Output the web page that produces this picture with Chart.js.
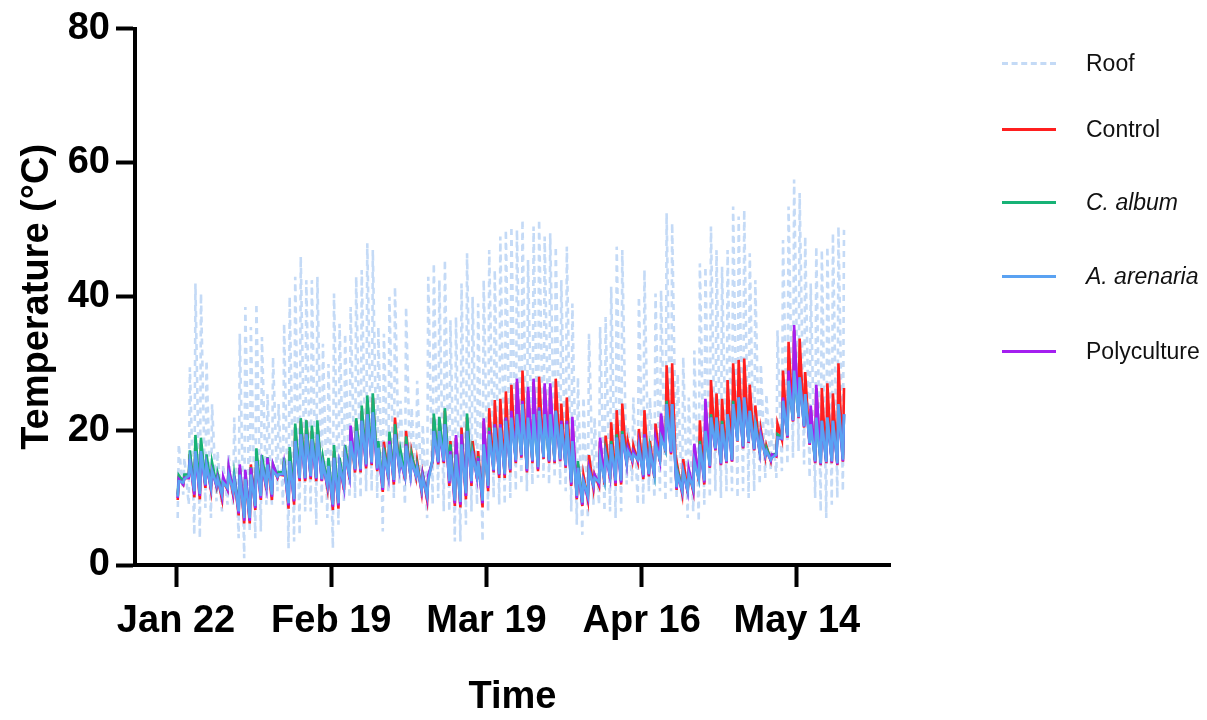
<!DOCTYPE html>
<html>
<head>
<meta charset="utf-8">
<script src="https://cdn.jsdelivr.net/npm/chart.js@4"></script>
<style>
  body { margin: 0; background: #fff; }
  #wrap { position: relative; width: 1207px; height: 720px; }
  #legend { position: absolute; left: 1002px; top: 0; font: 23px "Liberation Sans", Arial, sans-serif; color: #111; }
  .item { position: absolute; left: 0; white-space: nowrap; }
  .swatch { position: absolute; left: 0; width: 54px; height: 0; border-top: 3px solid; }
  .label { position: absolute; left: 84px; transform: translateY(-50%); }
</style>
</head>
<body>
<div id="wrap">
  <canvas id="chart" width="1207" height="720"></canvas>
  <div id="legend"></div>
</div>
<script>
// day 0 = Jan 22; one min and one max per day
const tickDays = [0, 28, 56, 84, 112];
const tickLabels = ["Jan 22", "Feb 19", "Mar 19", "Apr 16", "May 14"];

const roofMax = [
  18, 16, 29.5, 42, 40.5, 30.5, 24, 17, 15, 16.5,
  22, 34.5, 38.5, 35.5, 39, 34, 25.5, 31, 24, 36,
  40, 43, 46, 42.5, 42.5, 43, 33, 30, 40.5, 36,
  34.5, 38.5, 43, 44, 48, 47, 35.5, 34.5, 40, 41.5,
  24.5, 38.5, 23.5, 27.5, 21, 43, 45, 42.5, 45.5, 36.5,
  37, 42, 46.5, 40, 39, 42.5, 47, 44, 49, 50,
  50.5, 50, 51.5, 45.5, 50.5, 51.5, 49, 49.5, 47.5, 42.5,
  47.5, 39, 28, 25, 34.5, 22, 35.5, 37, 41.5, 47.5,
  47, 20.5, 25, 40, 44, 25, 40.5, 41, 52.5, 51,
  28.5, 31, 25, 32, 45, 44.5, 50.5, 47, 44.5, 47,
  53.5, 52, 53, 46.5, 42.5, 30, 25.5, 22, 35, 48.5,
  53.5, 57.5, 55.5, 49, 42, 47.5, 47, 47.5, 49.5, 50.5, 50
];
const roofMin = [
  7, 10.5, 9, 4.5, 4, 8.5, 7, 9.5, 8, 9,
  9, 4, 1, 5, 4, 5, 9, 9, 11, 9,
  2.5, 3.5, 4.5, 8, 8, 6, 9, 7, 2.5, 6,
  9.5, 10, 10, 10, 11, 11, 10, 5, 11, 10,
  12, 9, 12, 12, 10, 7, 9, 10, 8, 8,
  3.5, 3.5, 6, 8, 9, 3.5, 8, 10, 9, 9,
  10, 11, 12, 11, 12, 13, 13, 12, 13, 12,
  11, 8, 6, 4.5, 7, 9, 9, 8, 8, 7,
  8, 12, 12.5, 9, 9, 11, 10, 11, 9.5, 11,
  10, 9.5, 7, 8, 6.5, 9, 10, 11, 10, 11,
  11, 10, 11, 10, 11, 12, 13, 14, 13, 14,
  15, 16, 17, 15, 13, 10, 8, 7, 9, 10, 11
];
const controlMax = [
  13, 13, 16.5, 18, 18, 15.5, 14.5, 13, 12.5, 14,
  13, 14.5, 13.5, 15, 16.5, 15.5, 15.5, 14.5, 13.5, 15.5,
  17, 20.5, 21.5, 21.5, 20, 21, 15.5, 15.5, 17, 15.5,
  17.5, 20, 21.5, 23, 24.5, 25, 18, 18.4, 19.5, 22,
  16.5, 20, 16.8, 15.5, 13.5, 13, 22, 21.5, 23, 18.5,
  19, 20.5, 22, 18.5, 17, 21.5, 23.4, 24.6, 24.8, 25.9,
  26.9, 27.3, 29, 26, 27.3, 28.1, 26.6, 26.6, 27.8, 24.1,
  25, 21.5, 15, 13.4, 16.4, 13.5, 18.5, 19.3, 21.3, 23.1,
  24.1, 18.5, 17.8, 20.3, 23.1, 18.5, 21.1, 22.2, 29.8, 30.1,
  14.5, 15.8, 14, 17.6, 21.6, 24.2, 27.6, 25.6, 24.8, 27.6,
  30.1, 30.6, 30.8, 26.9, 23.8, 20.2, 17.8, 16.5, 21.1, 29,
  33.3, 35, 33.8, 28.8, 23.3, 26.4, 26.4, 27.1, 25.6, 30.1, 26.4
];
const controlMin = [
  9.7, 12, 13, 10.1, 9.8, 11.5, 11.2, 11.7, 9.8, 11.2,
  10.5, 7.4, 6.2, 6.2, 8.2, 9.7, 11.2, 9.7, 13, 13.4,
  8.4, 9, 12.5, 12.5, 12.8, 12.5, 12.5, 11.5, 8.2, 8.4,
  11.2, 12.8, 13.8, 13.8, 14.4, 14.9, 14, 10.9, 12.8, 12,
  14.1, 12.8, 13.2, 13.2, 10.9, 9.7, 15.4, 15, 15.2, 11.8,
  8.8, 8.6, 9.8, 11.8, 12.8, 8.6, 11, 13.8, 13, 13,
  13.8, 15.2, 16, 13.8, 15.2, 14, 15.8, 15.2, 15.2, 15.5,
  14.5, 11.8, 9.8, 8.8, 9.7, 11.5, 11.8, 12, 12.8, 11.8,
  12, 14.9, 15.5, 15.4, 12.8, 13.2, 13, 15.4, 16.8, 16.5,
  11.2, 10.7, 10.7, 11, 12.5, 12, 14.5, 17.1, 14.9, 15.2,
  15.4, 18.4, 17.4, 18.2, 17.1, 16.7, 16.2, 15.5, 16.2, 18.7,
  19, 21.4, 21.9, 20.5, 17.9, 15.2, 14.9, 15.2, 15.2, 14.9, 15.4
];
const albumMax = [
  13.4, 13.5, 17.1, 19.4, 19, 16.5, 15.3, 13.7, 12.8, 14.3,
  13.5, 14.5, 13.8, 14.6, 17.4, 16.4, 16.1, 15, 13.9, 16,
  17.6, 21.1, 21.9, 21.6, 20.8, 21.6, 16, 16, 17.9, 16,
  17.9, 20.3, 21.9, 23.8, 25.3, 25.6, 18.5, 17.5, 19.9, 21,
  17.1, 19.2, 16.5, 15, 13.5, 13, 22.6, 22.1, 23.4, 18,
  18, 19.5, 22.6, 17, 16.2, 19, 20.5, 21, 21, 22,
  22.5, 23, 23.5, 22.5, 23, 23.5, 22.5, 22.5, 23, 21.5,
  21.5, 19, 15.5, 12.5, 14.5, 13, 16.5, 17, 18.5, 19.5,
  20, 17.5, 17, 18, 19.5, 17.5, 18.5, 19.5, 24.5, 24,
  14, 14, 13.5, 16, 18.5, 20, 22.5, 22, 21.5, 22.5,
  24.5, 25, 24.5, 23, 21.5, 19.5, 17.5, 16.5, 19.5, 24.5,
  27, 28.5, 27.5, 25.5, 21.5, 22, 21.5, 22, 21.5, 23.5, 22.5
];
const albumMin = [
  10.5, 12.5, 13.5, 11, 11, 12, 11.8, 12, 11, 11.8,
  11.2, 8.5, 7.5, 7.5, 9.2, 10.5, 12, 10.8, 13.3, 13.8,
  9.5, 10, 13, 13.2, 13.5, 13.2, 13, 12.2, 9.5, 9.5,
  12, 13.5, 14.5, 14.5, 15.2, 15.5, 14.6, 11.8, 13.5, 13,
  14.5, 13.5, 13.6, 13.5, 11.5, 10.5, 15.8, 15.5, 15.8, 12.8,
  10, 9.8, 11, 12.8, 13.4, 10, 12, 14.3, 13.8, 13.8,
  14.5, 15.8, 16.5, 14.5, 15.8, 14.8, 16.2, 15.8, 15.8, 16,
  15, 12.5, 10.5, 9.5, 10.5, 12, 12.5, 12.8, 13.5, 12.8,
  12.8, 15.3, 15.8, 15.8, 13.5, 13.8, 13.6, 15.8, 17.2, 17,
  11.8, 11.3, 11.3, 11.6, 13, 12.8, 15, 17.5, 15.4, 15.6,
  15.8, 18.6, 17.8, 18.5, 17.4, 17, 16.5, 15.8, 16.6, 19,
  19.4, 21.7, 22.2, 20.8, 18.3, 15.6, 15.3, 15.5, 15.6, 15.3, 15.8
];
const arenariaMax = [
  12.5, 12.8, 15.5, 17, 17, 15, 14, 12.8, 12.3, 13.5,
  12.8, 13.5, 12.8, 13.5, 15.5, 15, 15, 14, 13.5, 14.8,
  15.5, 18.5, 19.5, 19.5, 18.8, 19.5, 15, 14.8, 16, 15,
  16.5, 18.5, 20, 21.5, 22.5, 22.8, 17.5, 16.5, 18, 19.5,
  15.8, 17.8, 15.5, 14.5, 13, 12.5, 20, 20, 21, 16.5,
  16.5, 18, 20, 16.5, 15.5, 18, 19.5, 20.5, 20.5, 21.5,
  22, 22.5, 24, 22, 22.5, 23, 22.5, 22.5, 23, 21,
  21, 18.5, 14.5, 12.5, 14, 13, 16, 16.5, 18, 19,
  19.5, 17, 16.5, 17.5, 19, 17, 18, 19, 24, 24,
  13.5, 14, 13.5, 15.5, 18, 20, 22, 22, 21, 22.5,
  24, 25, 25, 23, 21, 19, 17, 16, 19, 24.5,
  27.5, 29, 28, 25.5, 21, 22, 21.5, 22, 21.5, 24, 22.5
];
const arenariaMin = [
  10.2, 12.3, 13.3, 11, 10.6, 12, 11.6, 12, 10.5, 11.5,
  11, 8, 7, 7, 8.8, 10.3, 11.8, 10.5, 13.2, 13.6,
  9.2, 9.8, 13, 13, 13.3, 13, 12.8, 12, 9, 9.2,
  11.8, 13.3, 14.3, 14.3, 15, 15.3, 14.4, 11.5, 13.3, 12.7,
  14.4, 13.3, 13.4, 13.4, 11.3, 10.3, 15.7, 15.4, 15.6, 12.5,
  9.6, 9.4, 10.7, 12.5, 13.2, 9.6, 11.8, 14.2, 13.6, 13.6,
  14.3, 15.6, 16.4, 14.3, 15.6, 14.6, 16.1, 15.6, 15.6, 15.8,
  14.9, 12.3, 10.3, 9.3, 10.3, 11.9, 12.4, 12.6, 13.4, 12.6,
  12.6, 15.2, 15.7, 15.7, 13.4, 13.6, 13.4, 15.7, 17.1, 16.9,
  11.6, 11.1, 11.1, 11.4, 12.8, 12.6, 14.8, 17.4, 15.2, 15.5,
  15.7, 18.5, 17.7, 18.4, 17.3, 16.9, 16.4, 15.7, 16.5, 18.9,
  19.3, 21.6, 22.1, 20.7, 18.2, 15.5, 15.2, 15.4, 15.5, 15.2, 15.7
];
const polyMax = [
  12.8, 13, 15.8, 16.5, 16.5, 14.8, 14, 13, 13.2, 14.7,
  13.2, 15, 14.2, 14.5, 15.5, 15, 16, 15, 13.5, 15,
  15.5, 18.5, 19.5, 19.5, 18.5, 19, 15, 14.5, 16, 15,
  16.5, 20.8, 20, 21.5, 22.5, 22.5, 17, 16.5, 18.5, 19.5,
  15.5, 18, 15.5, 14.5, 13.4, 13.4, 20, 19.5, 21, 17,
  19.4, 19.5, 20, 17, 16, 21.9, 20, 21, 21, 22,
  23, 27.8, 24.5, 26.6, 27.8, 23.5, 27.1, 27.1, 23, 21.5,
  21.5, 22.1, 14.5, 12.5, 14.5, 13.5, 19, 16.5, 18, 19,
  19.5, 17.5, 17, 18, 19.5, 17.5, 19, 22.6, 24, 24,
  13.5, 14, 14.4, 18.1, 18, 24.8, 22, 22, 21, 22.5,
  24, 25, 25, 23, 21, 19.5, 17, 16.5, 19, 25,
  29, 35.8, 28, 25.5, 23.8, 26.9, 21.5, 22, 21.5, 23.5, 22.5
];
const polyMin = [
  10, 12, 13, 10.5, 10.3, 11.8, 11.4, 11.8, 10.2, 11.3,
  10.8, 7.7, 6.6, 6.6, 8.5, 10, 11.5, 10.2, 13.1, 13.5,
  8.9, 9.5, 12.8, 12.8, 13.1, 12.8, 12.6, 11.8, 8.7, 8.9,
  11.5, 13.1, 14.1, 14.1, 14.7, 15.1, 14.2, 11.2, 13.1, 12.4,
  14.2, 13.1, 13.3, 13.3, 11.1, 10, 15.5, 15.2, 15.4, 12.2,
  9.2, 9, 10.3, 12.2, 13, 9.2, 11.5, 14, 13.4, 13.4,
  14.1, 15.4, 16.2, 14, 15.4, 14.3, 16, 15.4, 15.4, 15.6,
  14.7, 12, 10, 9, 10, 11.7, 12.1, 12.3, 13.1, 12.2,
  12.3, 15, 15.6, 15.6, 13.1, 13.4, 13.2, 15.6, 17, 16.7,
  11.4, 10.9, 10.9, 11.2, 12.7, 12.3, 14.6, 17.2, 15, 15.3,
  15.5, 18.5, 17.5, 18.3, 17.2, 16.8, 16.3, 15.6, 16.3, 18.8,
  19.1, 21.5, 22, 20.6, 18, 15.3, 15, 15.3, 15.3, 15, 15.5
];

const FONT = '"Liberation Sans", Arial, sans-serif';

// each day: low in the early morning, high in the afternoon
function daily(mins, maxs) {
  const pts = [];
  mins.forEach((lo, i) => {
    pts.push({ x: i + 0.3, y: lo });
    pts.push({ x: i + 0.5, y: maxs[i] });
  });
  return pts;
}

const series = [
  { label: "Roof", color: "#c4daf6", dash: [6, 5], order: 5, data: daily(roofMin, roofMax) },
  { label: "Control", color: "#ff1f1f", order: 4, data: daily(controlMin, controlMax) },
  { label: "C. album", italic: true, color: "#17b276", order: 3, data: daily(albumMin, albumMax) },
  { label: "A. arenaria", italic: true, color: "#5aa2f2", order: 1, data: daily(arenariaMin, arenariaMax) },
  { label: "Polyculture", color: "#a41ff0", order: 2, data: daily(polyMin, polyMax) },
];

new Chart(document.getElementById("chart"), {
  type: "line",
  data: {
    datasets: series.map((s) => ({
      label: s.label,
      data: s.data,
      borderColor: s.color,
      borderWidth: 2.6,
      borderDash: s.dash || [],
      pointRadius: 0,
      tension: 0,
      order: s.order,
    })),
  },
  options: {
    responsive: false,
    animation: false,
    devicePixelRatio: 1,
    layout: { padding: { top: 28, right: 317, left: 0, bottom: 0 } },
    plugins: { legend: { display: false }, tooltip: { enabled: false } },
    scales: {
      x: {
        type: "linear",
        min: -7.4,
        max: 128.8,
        afterBuildTicks: (scale) => { scale.ticks = tickDays.map((v) => ({ value: v })); },
        afterFit: (scale) => { scale.height = 155; },
        ticks: {
          autoSkip: false,
          maxRotation: 0,
          padding: 12,
          color: "#000",
          font: { family: FONT, size: 38, weight: "bold" },
          callback: (v) => tickLabels[tickDays.indexOf(v)],
        },
        grid: { drawOnChartArea: false, tickLength: 22, tickWidth: 4, tickColor: "#000" },
        border: { width: 4, color: "#000" },
        title: {
          display: true,
          text: "Time",
          color: "#000",
          padding: { top: 0, bottom: 0 },
          font: { family: FONT, size: 38, weight: "bold" },
        },
      },
      y: {
        min: 0,
        max: 80,
        afterFit: (scale) => { scale.width = 135; },
        ticks: {
          stepSize: 20,
          padding: 6,
          color: "#000",
          font: { family: FONT, size: 38, weight: "bold" },
        },
        grid: { drawOnChartArea: false, tickLength: 19, tickWidth: 4, tickColor: "#000" },
        border: { width: 4, color: "#000" },
        title: {
          display: true,
          text: "Temperature (°C)",
          color: "#000",
          padding: { top: 15, bottom: 0 },
          font: { family: FONT, size: 38, weight: "bold" },
        },
      },
    },
  },
});

// legend with italic species names
const rowY = [63, 129, 202, 276, 351];
const legend = document.getElementById("legend");
series.forEach((s, i) => {
  const item = document.createElement("div");
  item.className = "item";
  item.style.top = rowY[i] + "px";
  const sw = document.createElement("div");
  sw.className = "swatch";
  sw.style.borderTop = `3px ${s.dash ? "dashed" : "solid"} ${s.color}`;
  sw.style.top = "-1.5px";
  const lb = document.createElement("div");
  lb.className = "label";
  lb.textContent = s.label;
  if (s.italic) lb.style.fontStyle = "italic";
  item.append(sw, lb);
  legend.appendChild(item);
});
</script>
</body>
</html>
